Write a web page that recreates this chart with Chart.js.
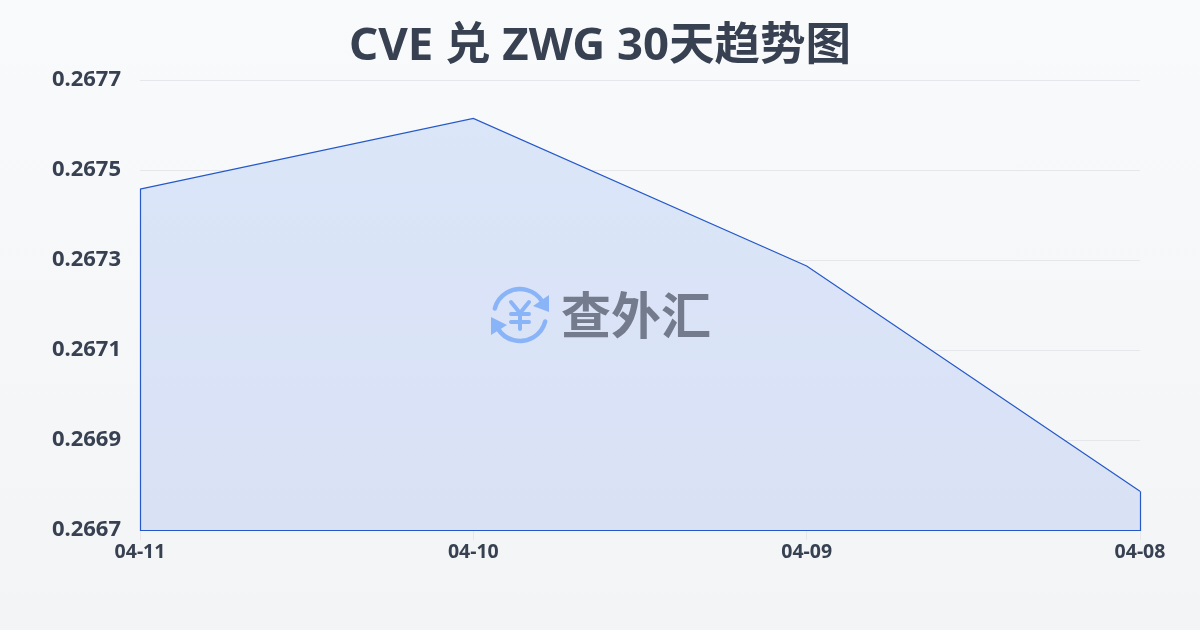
<!DOCTYPE html>
<html>
<head>
<meta charset="utf-8">
<script src="https://cdn.jsdelivr.net/npm/chart.js@4"></script>
<style>
    html, body { margin: 0; padding: 0; }
    body { width: 1200px; height: 630px; overflow: hidden; background: linear-gradient(180deg, #f9fafb 0%, #f3f4f6 100%); }
    #wrap { width: 1200px; height: 630px; position: relative; }
    canvas { display: block; }
</style>
</head>
<body>
<div id="wrap"><canvas id="rateChart" width="1200" height="630"></canvas></div>
<script>
const chartTitle = "CVE 兑 ZWG 30天趋势图";
const watermarkText = "查外汇";
const days = ["04-11", "04-10", "04-09", "04-08"];
const rates = [0.267458, 0.267615, 0.267287, 0.266786];
const yMin = 0.2667;
const yMax = 0.2677;
const yStep = 0.0002;

const LINE_COLOR = "#2559c9";
const TEXT_COLOR = "#374151";
const FONT = "'Noto Sans', 'Noto Sans CJK SC', sans-serif";

// closes the area outline: left, bottom and right edges
const outlinePlugin = {
    id: "outline",
    afterDatasetsDraw(chart) {
        const pts = chart.getDatasetMeta(0).data;
        const ctx = chart.ctx;
        const base = chart.scales.y.getPixelForValue(yMin);
        ctx.save();
        ctx.strokeStyle = LINE_COLOR;
        ctx.lineWidth = 1.2;
        ctx.beginPath();
        ctx.moveTo(pts[0].x + 0.5, pts[0].y);
        ctx.lineTo(pts[0].x + 0.5, base + 0.5);
        ctx.lineTo(pts[pts.length - 1].x + 0.5, base + 0.5);
        ctx.lineTo(pts[pts.length - 1].x + 0.5, pts[pts.length - 1].y);
        ctx.stroke();
        ctx.restore();
    }
};

// logo + name in the middle of the plot
const watermarkPlugin = {
    id: "watermark",
    afterDatasetsDraw(chart) {
        const ctx = chart.ctx;
        const cx = 520, cy = 315, r = 26;
        ctx.save();
        ctx.strokeStyle = "#8ab4f8";
        ctx.fillStyle = "#8ab4f8";
        ctx.lineWidth = 4.5;
        ctx.lineCap = "round";

        ctx.beginPath();
        ctx.arc(cx, cy, r, Math.PI * 1.08, Math.PI * 1.83);
        ctx.stroke();
        ctx.beginPath();
        ctx.arc(cx, cy, r, Math.PI * 0.08, Math.PI * 0.83);
        ctx.stroke();

        ctx.beginPath();
        ctx.moveTo(549, 295);
        ctx.lineTo(549, 312);
        ctx.lineTo(533, 306);
        ctx.closePath();
        ctx.fill();
        ctx.beginPath();
        ctx.moveTo(491, 335);
        ctx.lineTo(491, 317);
        ctx.lineTo(507, 325);
        ctx.closePath();
        ctx.fill();

        // yen sign
        ctx.lineWidth = 4;
        ctx.beginPath();
        ctx.moveTo(511, 302); ctx.lineTo(520, 313); ctx.lineTo(529, 302);
        ctx.moveTo(520, 313); ctx.lineTo(520, 329);
        ctx.moveTo(511, 314); ctx.lineTo(529, 314);
        ctx.moveTo(511, 322); ctx.lineTo(529, 322);
        ctx.stroke();

        ctx.fillStyle = "#737b8c";
        ctx.font = "bold 50px " + FONT;
        ctx.textAlign = "center";
        ctx.textBaseline = "middle";
        ctx.fillText(watermarkText, 636, 320);
        ctx.restore();
    }
};

const ctx = document.getElementById("rateChart").getContext("2d");

new Chart(ctx, {
    type: "line",
    data: {
        labels: days,
        datasets: [{
            data: rates,
            yAxisID: "y",
            borderColor: LINE_COLOR,
            borderWidth: 1.2,
            pointRadius: 0,
            tension: 0,
            fill: "start",
            backgroundColor: (c) => {
                const g = c.chart.ctx.createLinearGradient(0, 80, 0, 530);
                g.addColorStop(0, "#dbe6f9");
                g.addColorStop(1, "#d9e1f5");
                return g;
            }
        }]
    },
    options: {
        responsive: false,
        animation: false,
        plugins: {
            legend: { display: false },
            tooltip: { enabled: false },
            title: {
                display: true,
                text: chartTitle,
                color: TEXT_COLOR,
                font: { family: FONT, size: 45.5, weight: "bold", lineHeight: 1.2 },
                padding: { top: 20, bottom: 5.6 }
            }
        },
        scales: {
            x: {
                grid: { drawOnChartArea: false, color: "#e5e7eb", tickLength: 10 },
                border: { display: false },
                ticks: { color: TEXT_COLOR, font: { family: FONT, size: 19.5, weight: "bold" }, padding: 1, maxRotation: 0, autoSkip: false },
                afterFit(scale) { scale.height = 100; }
            },
            y: {
                min: yMin,
                max: yMax,
                grid: { color: "#e5e7eb", drawTicks: false, lineWidth: 1 },
                border: { display: false },
                ticks: {
                    stepSize: yStep,
                    color: TEXT_COLOR,
                    font: { family: FONT, size: 22, weight: "bold" },
                    padding: 19,
                    callback: (v) => v.toFixed(4)
                },
                afterFit(scale) { scale.width = 140; }
            },
            // empty right axis, only keeps the 60px margin so the title stays centred on the page
            spacer: {
                position: "right",
                grid: { display: false },
                border: { display: false },
                ticks: { display: false },
                afterFit(scale) { scale.width = 60; }
            }
        }
    },
    plugins: [outlinePlugin, watermarkPlugin]
});
</script>
</body>
</html>
